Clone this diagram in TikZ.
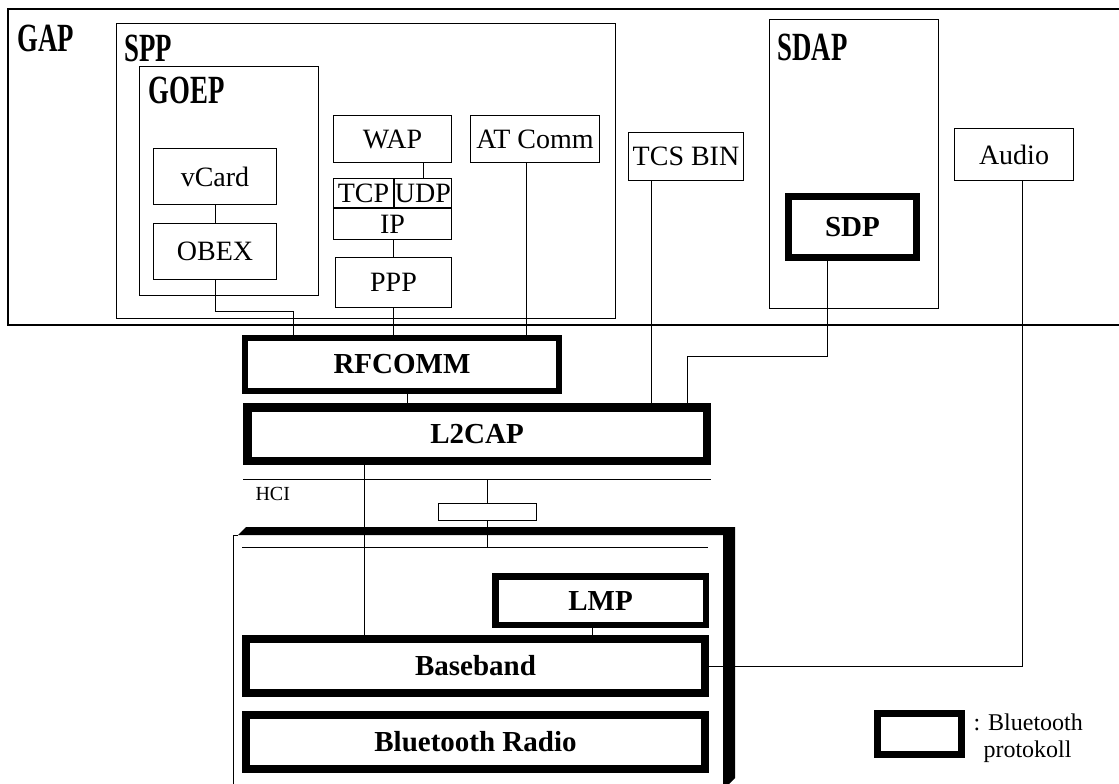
\documentclass[tikz,border=0pt]{standalone}
\usepackage{fontspec}
\usepackage{graphicx}
\setmainfont{Liberation Serif}
\newcommand{\labfont}{\fontsize{28}{30}\selectfont}
\newcommand{\protofont}{\fontsize{29}{31}\selectfont\bfseries}
\newcommand{\profname}[1]{\scalebox{0.67}[1]{\fontsize{40}{40}\selectfont\bfseries #1}}
\begin{document}
\begin{tikzpicture}[x=1pt, y=-1pt, line width=1pt,
  plainbox/.style={draw, line width=1pt, inner sep=0pt, font=\labfont},
  protobox/.style={draw, line width=#1, inner sep=0pt, font=\protofont},
  title/.style={anchor=base west, inner sep=0pt}]
\useasboundingbox (0,0) rectangle (1119,784);

% profiles
\draw[line width=1.3pt] (1125,9) -- (8,9) -- (8,325) -- (1125,325);
\draw (116,24) rectangle (615,318);
\draw (139,67) rectangle (318,295);
\draw (769,20) rectangle (938,308);
\node[title] (gap) at (17,52) {\profname{GAP}};
\node[title] (spp) at (124,62) {\profname{SPP}};
\node[title] (goep) at (148,103) {\profname{GOEP}};
\node[title] (sdap) at (777,60) {\profname{SDAP}};

% upper layers
\node[plainbox, minimum width=123pt, minimum height=56pt] (vcard) at (215,176.5) {vCard};
\node[plainbox, minimum width=123pt, minimum height=56pt] (obex) at (215,251.5) {OBEX};
\node[plainbox, minimum width=118pt, minimum height=47pt] (wap) at (392.5,139) {WAP};
\node[plainbox, minimum width=60pt, minimum height=29pt] (tcp) at (363.5,193) {TCP};
\node[plainbox, minimum width=57pt, minimum height=29pt] (udp) at (423,193) {UDP};
\node[plainbox, minimum width=118pt, minimum height=31pt] (ip) at (392.5,224) {IP};
\node[plainbox, minimum width=116pt, minimum height=50pt] (ppp) at (393.5,282.5) {PPP};
\node[plainbox, minimum width=129pt, minimum height=47pt] (atcomm) at (535,139) {AT Comm};
\node[plainbox, minimum width=115pt, minimum height=48pt] (tcs) at (686,156.5) {TCS BIN};
\node[plainbox, minimum width=119pt, minimum height=52pt] (audio) at (1014,154.5) {Audio};
\node[protobox=7pt, minimum width=128pt, minimum height=61pt] (sdp) at (852.5,227) {SDP};

% bluetooth protocols
\node[protobox=6pt, minimum width=314pt, minimum height=53pt] (rfcomm) at (402,364.5) {RFCOMM};
\node[protobox=8.5pt, minimum width=459.5pt, minimum height=53.5pt] (l2cap) at (477,434) {L2CAP};
\coordinate (hcil) at (243,479);
\coordinate (hcir) at (711,479);
\draw (hcil) -- (hcir);
\node[anchor=base west, inner sep=0pt, font=\fontsize{20}{20}\selectfont] (hci) at (255,500) {HCI};
\node[plainbox, minimum width=98pt, minimum height=17pt] (hcibox) at (487.5,512) {};

% module
\fill (238,535) -- (246,527) -- (735,527) -- (735,778) -- (729,784) -- (723,784) -- (723,535) -- cycle;
\draw (233,790) -- (233,535) -- (238,535);
\coordinate (devl) at (242,547);
\coordinate (devr) at (708,547);
\draw (devl) -- (devr);
\node[protobox=6.5pt, minimum width=210.5pt, minimum height=48.5pt] (lmp) at (600.5,600.5) {LMP};
\node[protobox=8pt, minimum width=459pt, minimum height=54pt] (baseband) at (475.5,666) {Baseband};
\node[protobox=8pt, minimum width=459pt, minimum height=54pt] (radio) at (475.5,742) {Bluetooth Radio};

% links
\draw (vcard) -- (obex);
\draw (obex.south) -- ++(0,31) -| ([xshift=51pt]rfcomm.north west);
\draw (udp.north) -- (udp.north |- wap.south);
\draw (ppp.north) -- (ppp.north |- ip.south);
\draw (ppp.south) -- (ppp.south |- rfcomm.north);
\draw ([xshift=-9pt]atcomm.south) -- ([xshift=-9pt]atcomm.south |- rfcomm.north);
\draw ([xshift=5pt]rfcomm.south) -- ([xshift=5pt]rfcomm.south |- l2cap.north);
\draw ([xshift=23pt]tcs.south west) -- ([xshift=23pt]tcs.south west |- l2cap.north);
\draw ([xshift=42pt]sdp.south west) -- ++(0,95) -| ([xshift=444pt]l2cap.north west);
\draw ([xshift=8pt]audio.south) |- (baseband.east);
\draw ([xshift=121pt]l2cap.south west) -- ([xshift=121pt]l2cap.south west |- baseband.north);
\draw (hcibox.north) -- (hcibox.north |- hcil);
\draw (hcibox.south) -- (hcibox.south |- devl);
\draw ([xshift=100pt]lmp.south west) -- ([xshift=100pt]lmp.south west |- baseband.north);

% legend
\node[protobox=7pt, minimum width=84pt, minimum height=41pt] (legend) at (919.5,734) {};
\node[anchor=base west, inner sep=0pt, font=\fontsize{24}{24}\selectfont] (legtop) at (973,730) {: Bluetooth};
\node[anchor=base west, inner sep=0pt, font=\fontsize{24}{24}\selectfont] (legbot) at (983,757) {protokoll};

\end{tikzpicture}
\end{document}
